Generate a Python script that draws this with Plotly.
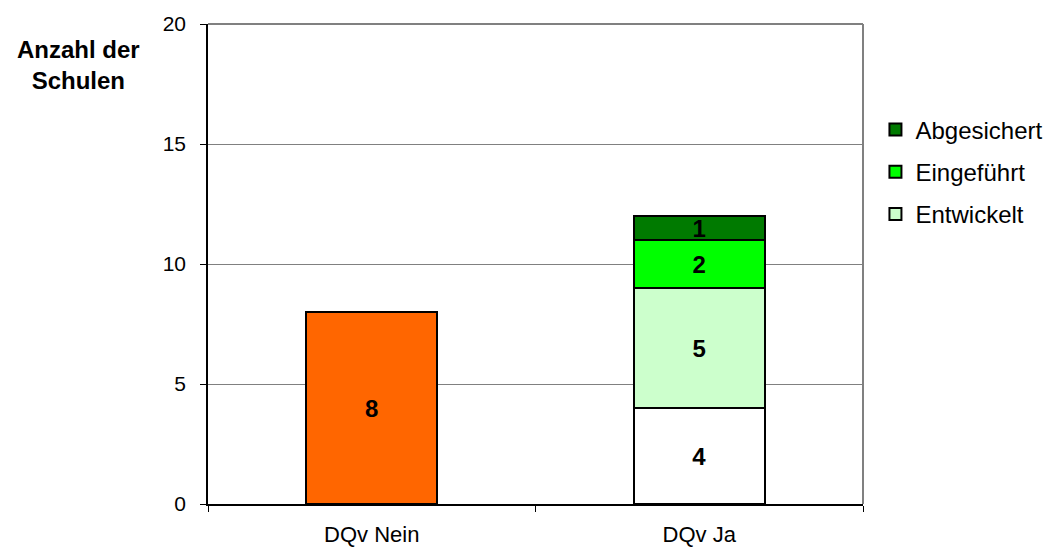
import plotly.graph_objects as go

categories = ["DQv Nein", "DQv Ja"]
nein_values = [8]
entwickelt_start = [4]      # white base segment
entwickelt = [5]
eingefuehrt = [2]
abgesichert = [1]
y_ticks = [0, 5, 10, 15, 20]

fig = go.Figure()
bar_w = 0.4
line = dict(color="black", width=2)
txtfont = dict(family="Liberation Sans, Arial", size=24, color="black", weight="bold")

common = dict(width=bar_w, textposition="inside", insidetextanchor="middle", textangle=0,
              textfont=txtfont, hoverinfo="skip")
fig.add_trace(go.Bar(x=[categories[0]], y=nein_values, marker=dict(color="#FF6600", line=line),
                     text=nein_values, showlegend=False, **common))
fig.add_trace(go.Bar(x=[categories[1]], y=entwickelt_start, marker=dict(color="#FFFFFF", line=line),
                     text=entwickelt_start, showlegend=False, **common))
series = [("Entwickelt", entwickelt, "#CCFFCC", 3), ("Eingeführt", eingefuehrt, "#00FF00", 2),
          ("Abgesichert", abgesichert, "#007A00", 1)]
for name, vals, col, rank in series:
    fig.add_trace(go.Bar(x=[categories[1]], y=vals, name=name, legendgroup=name, legendrank=rank,
                         marker=dict(color=col, line=line), text=vals, **common))

fig.update_layout(
    barmode="stack",
    width=1054, height=550,
    margin=dict(l=208, r=191, t=24, b=46, autoexpand=False),
    paper_bgcolor="white", plot_bgcolor="white",
    font=dict(family="Liberation Sans, Arial", size=20, color="black"),
    uniformtext=dict(mode="show", minsize=24),
    legend=dict(x=1.019, y=0.826, xanchor="left", yanchor="top", traceorder="grouped",
                tracegroupgap=8, font=dict(size=24), itemwidth=30),
    showlegend=True,
)
fig.update_xaxes(type="category", categoryorder="array", categoryarray=categories,
                 showline=True, linecolor="black", linewidth=1.5,
                 ticks="outside", tickson="boundaries", ticklen=6, tickcolor="black",
                 tickfont=dict(size=22), ticklabelstandoff=10, showgrid=False)
fig.update_yaxes(range=[0, 20], tickvals=y_ticks, showline=True, linecolor="black", linewidth=1.5,
                 ticks="outside", ticklen=6, tickcolor="black", showgrid=True, gridcolor="#808080",
                 gridwidth=1, zeroline=False, tickfont=dict(size=21), ticklabelstandoff=10)
fig.add_shape(type="line", xref="paper", yref="paper", x0=0, x1=1, y0=1, y1=1, line=dict(color="#808080", width=2))
fig.add_shape(type="line", xref="paper", yref="paper", x0=1, x1=1, y0=0, y1=1, line=dict(color="#808080", width=2))
fig.add_annotation(text="<b>Anzahl der<br>Schulen</b>", xref="paper", yref="paper", x=-0.198, y=0.915,
                   xanchor="center", yanchor="middle", showarrow=False, font=dict(size=24))

fig.write_html("out.html")
